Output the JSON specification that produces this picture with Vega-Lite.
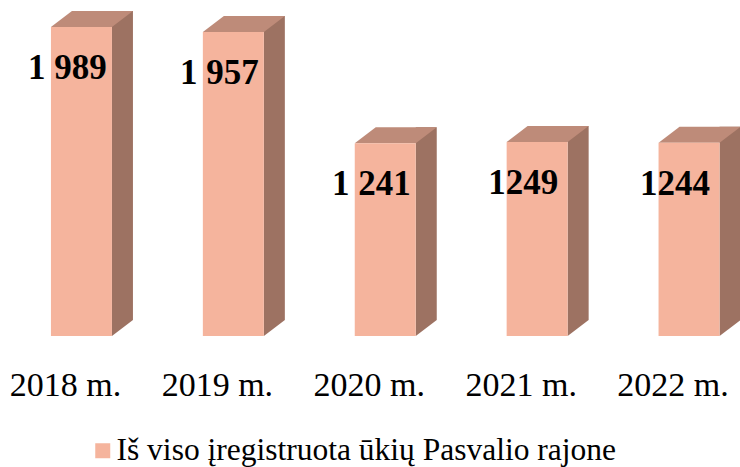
{
  "$schema": "https://vega.github.io/schema/vega-lite/v6.json",
  "width": 740,
  "height": 336,
  "autosize": {"type": "none"},
  "padding": {"top": 0, "left": 0, "right": 0, "bottom": 131},
  "background": "white",
  "config": {"view": {"stroke": null}},
  "data": {
    "values": [
      {"year": "2018 m.", "value": 1989, "label": "1 989", "series": "Iš viso įregistruota ūkių Pasvalio rajone"},
      {"year": "2019 m.", "value": 1957, "label": "1 957", "series": "Iš viso įregistruota ūkių Pasvalio rajone"},
      {"year": "2020 m.", "value": 1241, "label": "1 241", "series": "Iš viso įregistruota ūkių Pasvalio rajone"},
      {"year": "2021 m.", "value": 1249, "label": "1249", "series": "Iš viso įregistruota ūkių Pasvalio rajone"},
      {"year": "2022 m.", "value": 1244, "label": "1244", "series": "Iš viso įregistruota ūkių Pasvalio rajone"}
    ]
  },
  "encoding": {
    "x": {
      "field": "year", "type": "nominal", "sort": null,
      "scale": {"range": [-10.5, 749], "paddingInner": 0, "paddingOuter": 0},
      "axis": {"title": null, "domain": false, "ticks": false, "labelAngle": 0,
               "labelFont": "Liberation Serif", "labelFontSize": 34, "labelColor": "black",
               "labelPadding": 32, "labelBaseline": "top"}
    },
    "y": {
      "field": "value", "type": "quantitative",
      "scale": {"domain": [0, 2163], "nice": false, "zero": true},
      "axis": null
    }
  },
  "layer": [
    {
      "mark": {"type": "bar", "width": 21, "xOffset": 57, "yOffset": -16, "y2Offset": -16, "color": "#9D7262"},
      "encoding": {"y2": {"datum": 0}}
    },
    {
      "mark": {"type": "point", "shape": "M 46.5 -16 L 46.5 0 L 67.5 -16 Z", "size": 4, "filled": true, "opacity": 1, "color": "#9D7262", "strokeWidth": 0},
      "encoding": {"y": {"datum": 0}}
    },
    {
      "mark": {"type": "point", "shape": "M -14.5 0 L 6.5 -16 L 67.5 -16 L 46.5 0 Z", "size": 4, "filled": true, "opacity": 1, "color": "#BE8B79", "strokeWidth": 0}
    },
    {
      "mark": {"type": "bar", "width": 61, "xOffset": 16},
      "encoding": {
        "y2": {"datum": 0},
        "color": {
          "field": "series", "type": "nominal",
          "scale": {"range": ["#F5B49D"]},
          "legend": {"title": null, "orient": "none", "legendX": 87, "legendY": 435,
                     "symbolType": "square", "symbolSize": 225, "symbolStrokeWidth": 0,
                     "labelFont": "Liberation Serif", "labelFontSize": 31.5, "labelColor": "black",
                     "labelOffset": -2, "padding": 0, "labelLimit": 0}
        }
      }
    },
    {
      "mark": {"type": "text", "font": "Liberation Serif", "fontWeight": "bold", "fontSize": 35,
               "align": "center", "baseline": "middle", "dx": 2, "dy": 41, "color": "black"},
      "encoding": {"text": {"field": "label"}}
    }
  ]
}
